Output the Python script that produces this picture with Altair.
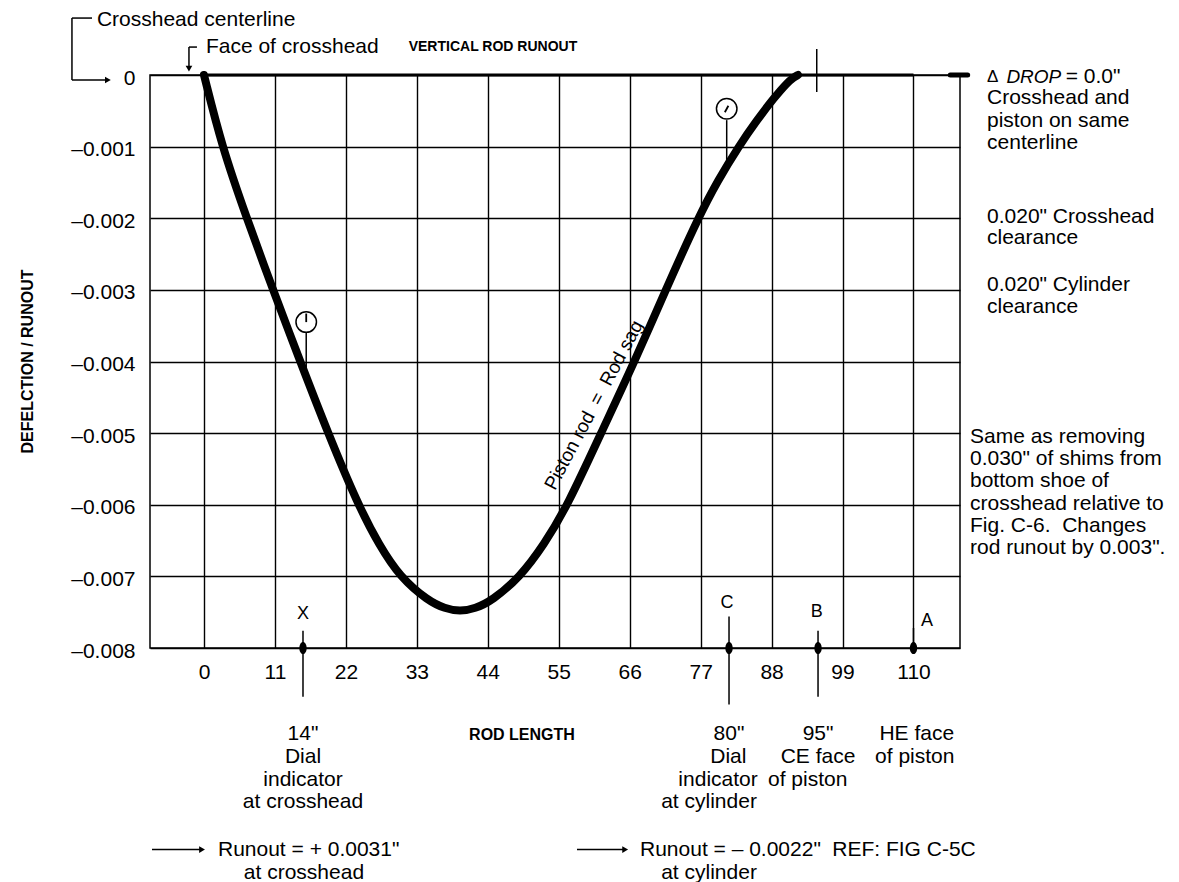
import altair as alt
import pandas as pd

# ---------------- data ----------------
rod_length = [0, 2.79, 6.51, 10.70, 14.88, 19.22, 23.88, 27.13, 30.39, 34.73, 37.36,
              39.69, 42.02, 44.65, 48.99, 52.71, 56.43, 61.55, 66.82, 71.63, 76.74,
              79.69, 82.95, 85.74, 88.37, 90.39, 91.47, 92.09]
rod_runout = [0, -0.001, -0.00197, -0.003, -0.00399, -0.005, -0.006, -0.00656, -0.00701,
              -0.00734, -0.00745, -0.00749, -0.00745, -0.00734, -0.00701, -0.00656, -0.006,
              -0.005, -0.00399, -0.00299, -0.00197, -0.00147, -0.00099, -0.00063, -0.00032,
              -0.00011, -0.00003, 0]
x_ticks = [0, 11, 22, 33, 44, 55, 66, 77, 88, 99, 110]
y_ticks = [0, -0.001, -0.002, -0.003, -0.004, -0.005, -0.006, -0.007, -0.008]
station_names = ["X", "C", "B", "A"]
station_pos = [15.35, 81.4, 95.2, 110.0]
dial_pos = [15.85, 81.04]
dial_runout = [-0.00345, -0.00047]

FONT = "Liberation Sans"
FS = 21

xs = alt.Scale(domain=[-8.37, 117.21], nice=False, zero=False)
ys = alt.Scale(domain=[-0.008, 0], nice=False, zero=False)

x_axis = alt.Axis(
    values=x_ticks, grid=True, domain=False, ticks=False, tickSize=0,
    gridColor="black", gridWidth=1.4, gridOpacity=1,
    labelFont=FONT, labelFontSize=FS, labelColor="black",
    labelBaseline="middle", labelPadding=24, labelFlush=False, title=None)
y_axis = alt.Axis(
    values=y_ticks, grid=True, domain=False, ticks=False, tickSize=0,
    gridColor="black", gridWidth=1.4, gridOpacity=1,
    labelFont=FONT, labelFontSize=FS, labelColor="black",
    labelPadding=15, labelOffset=3, labelFlush=False, title=None,
    labelExpr="datum.value === 0 ? '0' : '\u2013' + format(-datum.value, '.3f')")


def X(field="x"):
    return alt.X(f"{field}:Q", scale=xs, axis=x_axis)


def Y(field="y"):
    return alt.Y(f"{field}:Q", scale=ys, axis=y_axis)


# ---------------- curve ----------------
curve_df = pd.DataFrame({"x": rod_length, "y": rod_runout})
curve = alt.Chart(curve_df).mark_line(
    color="black", strokeWidth=8, interpolate="basis", strokeCap="round"
).encode(x=X(), y=Y())

# heavy line along zero, and small bar at right
zero_df = pd.DataFrame({"x": [0.0], "x2": [110.0], "y": [0.0]})
zero_line = alt.Chart(zero_df).mark_rule(color="black", strokeWidth=3).encode(
    x=X(), x2="x2", y=Y())
blob_df = pd.DataFrame({"x": [115.7], "x2": [118.4], "y": [0.0]})
blob = alt.Chart(blob_df).mark_rule(color="black", strokeWidth=5, strokeCap="round").encode(
    x=X(), x2="x2", y=Y())

# thin leader lines
seg = pd.DataFrame({
    "x":  [-20.47, -20.47, -20.47, -2.33, -2.33, 95.0,
           station_pos[0], station_pos[1], station_pos[2], station_pos[3],
           dial_pos[0], dial_pos[1], -8.06, 57.83],
    "x2": [-17.36, -20.47, -15.3, -1.09, -2.33, 95.0,
           station_pos[0], station_pos[1], station_pos[2], station_pos[3],
           dial_pos[0], dial_pos[1], -0.6, 65.0],
    "y":  [0.000795, 0.000795, -0.00007, 0.00039, 0.00039, 0.000363,
           -0.00776, -0.00756, -0.00776, -0.00772,
           -0.0036, -0.00063, -0.010815, -0.010815],
    "y2": [0.000795, -0.00007, -0.00007, 0.00039, 0.00009, -0.000237,
           -0.00868, -0.00879, -0.00868, -0.008,
           -0.00415, -0.00124, -0.010815, -0.010815],
})
leaders = alt.Chart(seg).mark_rule(color="black", strokeWidth=1.5).encode(
    x=X(), x2="x2", y=Y(), y2="y2")

needle_df = pd.DataFrame({
    "x": [dial_pos[0], 80.75], "x2": [dial_pos[0], 81.3],
    "y": [-0.00345, -0.00052], "y2": [-0.00333, -0.00043],
})
needles = alt.Chart(needle_df).mark_rule(color="black", strokeWidth=1.8).encode(
    x=X(), x2="x2", y=Y(), y2="y2")

heads_r = pd.DataFrame({"x": [-14.9, -0.3, 65.3], "y": [-0.00007, -0.010815, -0.010815]})
arrow_r = alt.Chart(heads_r).mark_point(shape="triangle-right", filled=True, color="black",
                                         size=45, opacity=1).encode(x=X(), y=Y())
heads_d = pd.DataFrame({"x": [-2.33], "y": [0.00009]})
arrow_d = alt.Chart(heads_d).mark_point(shape="triangle-down", filled=True, color="black",
                                         size=45, opacity=1).encode(x=X(), y=Y())

# dial indicators
dial_df = pd.DataFrame({"x": dial_pos, "y": dial_runout})
dials = alt.Chart(dial_df).mark_point(shape="circle", filled=True, fill="white", stroke="black",
                                      strokeWidth=1.5, size=420, opacity=1).encode(x=X(), y=Y())

# station dots on the axis
st_df = pd.DataFrame({"x": station_pos, "y": [-0.008] * 4, "t": station_names})
dots = alt.Chart(st_df).mark_point(
    shape="M0,-1A0.6,1 0 1,1 0,1A0.6,1 0 1,1 0,-1Z", filled=True, color="black",
    size=150, opacity=1).encode(x=X(), y=Y())


def text_layer(df, align="left", size=FS, weight="normal", style="normal", angle=0):
    kw = dict(font=FONT, color="black", align=align, baseline="middle",
              fontSize=size, fontWeight=weight, fontStyle=style)
    if angle:
        kw["angle"] = angle
    return alt.Chart(df).mark_text(**kw).encode(x=X(), y=Y(), text="t:N")


NB = "\u00a0"
left_txt = pd.DataFrame([
    ("Crosshead centerline", -16.6, 0.00077),
    ("Face of crosshead", 0.3, 0.00039),
    ("= 0.0\"", 133.6, -0.00003),
    ("Crosshead and", 121.4, -0.00032),
    ("piston on same", 121.4, -0.00064),
    ("centerline", 121.4, -0.00095),
    ("0.020\" Crosshead", 121.4, -0.00198),
    ("clearance", 121.4, -0.002275),
    ("0.020\" Cylinder", 121.4, -0.00293),
    ("clearance", 121.4, -0.00324),
    ("Same as removing", 118.76, -0.00505),
    ("0.030\" of shims from", 118.76, -0.00536),
    ("bottom shoe of", 118.76, -0.00567),
    ("crosshead relative to", 118.76, -0.00599),
    ("Fig. C-6." + NB + NB + "Changes", 118.76, -0.00629),
    ("rod runout by 0.003\".", 118.76, -0.0066),
    ("Runout = + 0.0031\"", 2.17, -0.010815),
    ("Runout = \u2013 0.0022\"", 67.6, -0.010815),
    ("REF: FIG C-5C", 97.4, -0.010815),
], columns=["t", "x", "y"])

delta_txt = pd.DataFrame([("\u0394", 121.4, -0.00003)], columns=["t", "x", "y"])
italic_txt = pd.DataFrame([("DROP", 124.4, -0.00003)], columns=["t", "x", "y"])

center_txt = pd.DataFrame([
    ("14\"", 15.35, -0.0092), ("Dial", 15.35, -0.00952),
    ("indicator", 15.35, -0.00984), ("at crosshead", 15.35, -0.010145),
    ("80\"", 81.4, -0.0092), ("Dial", 81.3, -0.00952),
    ("indicator", 79.7, -0.00984), ("at cylinder", 78.3, -0.010145),
    ("95\"", 95.2, -0.0092), ("CE face", 95.2, -0.00952),
    ("of piston", 93.6, -0.00984),
    ("HE face", 110.5, -0.0092), ("of piston", 110.2, -0.00952),
    ("at crosshead", 15.5, -0.011136),
    ("at cylinder", 78.3, -0.011136),
], columns=["t", "x", "y"])

letters = pd.DataFrame({
    "t": station_names,
    "x": [15.35, 81.1, 95.0, 112.1],
    "y": [-0.00752, -0.00737, -0.0075, -0.00763],
})

title_txt = pd.DataFrame([("VERTICAL ROD RUNOUT", 44.8, 0.00039)], columns=["t", "x", "y"])
xtitle_txt = pd.DataFrame([("ROD LENGTH", 49.3, -0.00921)], columns=["t", "x", "y"])
ytitle = pd.DataFrame([("DEFELCTION / RUNOUT", -27.3, -0.004)], columns=["t", "x", "y"])
sag = pd.DataFrame([("Piston rod" + NB + NB + "=" + NB + NB + "Rod sag", 60.45, -0.00461)],
                   columns=["t", "x", "y"])

chart = alt.layer(
    curve, zero_line, blob, leaders, arrow_r, arrow_d, dials, needles, dots,
    text_layer(left_txt),
    text_layer(delta_txt, size=17),
    text_layer(italic_txt, style="italic", size=19),
    text_layer(center_txt, align="center"),
    text_layer(letters, align="center", size=18),
    text_layer(title_txt, align="center", size=14, weight="bold"),
    text_layer(xtitle_txt, align="center", size=16, weight="bold"),
    text_layer(ytitle, align="center", size=16, weight="bold", angle=270),
    text_layer(sag, align="center", size=19, angle=298),
).properties(
    width=810, height=573,
    autosize=alt.AutoSizeParams(type="none"),
    padding={"left": 142, "top": 67, "right": 211, "bottom": 234},
).configure(font=FONT, background="white").configure_view(stroke="black", strokeWidth=1.5)

chart.save("out.html", embed_options={"renderer": "svg", "actions": False})
